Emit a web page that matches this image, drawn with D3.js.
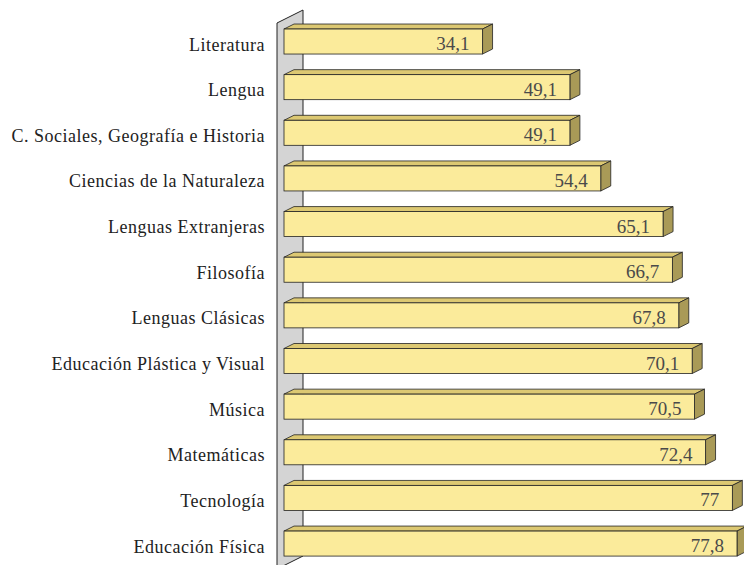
<!DOCTYPE html>
<html>
<head>
<meta charset="utf-8">
<script src="https://cdn.jsdelivr.net/npm/d3@7"></script>
<style>
  html, body { margin: 0; padding: 0; background: #fff; }
  svg { display: block; }
</style>
</head>
<body>
<svg id="chart" width="744" height="565"></svg>
<script>
// Subjects, top to bottom, and their scores
const subjects = [
  "Literatura",
  "Lengua",
  "C. Sociales, Geografía e Historia",
  "Ciencias de la Naturaleza",
  "Lenguas Extranjeras",
  "Filosofía",
  "Lenguas Clásicas",
  "Educación Plástica y Visual",
  "Música",
  "Matemáticas",
  "Tecnología",
  "Educación Física"
];
const scores = [34.1, 49.1, 49.1, 54.4, 65.1, 66.7, 67.8, 70.1, 70.5, 72.4, 77, 77.8];
const scoreLabels = ["34,1", "49,1", "49,1", "54,4", "65,1", "66,7", "67,8", "70,1", "70,5", "72,4", "77", "77,8"];

const svg = d3.select("#chart");
const fontFamily = "'Liberation Serif', 'DejaVu Serif', serif";

// Layout
const x0 = 284;                 // front plane of the bars
const depthX = 10, depthY = 5;  // 3D extrusion
const x = d3.scaleLinear().domain([0, 77.8]).range([x0, 737]);
const y = d3.scaleBand().domain(subjects)
  .range([6.2, 578.9]).paddingInner(0.452).paddingOuter(0.5);

// Back wall (side panel)
const wallFront = 277, wallBack = wallFront + 26;
const wallTop = 10, wallBottom = 556;
svg.append("path")
  .attr("d", `M${wallFront},${wallTop + 13} L${wallBack},${wallTop} L${wallBack},${wallBottom} L${wallFront},${wallBottom + 13} Z`)
  .attr("fill", "#d4d4d4")
  .attr("stroke", "#222")
  .attr("stroke-width", 1);

// Bars
const colFront = "#fbeb9b", colTop = "#dcc872", colSide = "#a99a57";
const bars = svg.append("g").selectAll("g")
  .data(subjects.map((s, i) => ({ s, v: scores[i], label: scoreLabels[i] })))
  .join("g");

bars.each(function (d) {
  const g = d3.select(this);
  const yt = y(d.s), h = y.bandwidth();
  const xr = x(d.v);
  // top face
  g.append("path")
    .attr("d", `M${x0},${yt} L${x0 + depthX},${yt - depthY} L${xr + depthX},${yt - depthY} L${xr},${yt} Z`)
    .attr("fill", colTop).attr("stroke", "#222").attr("stroke-width", 0.8);
  // side face
  g.append("path")
    .attr("d", `M${xr},${yt} L${xr + depthX},${yt - depthY} L${xr + depthX},${yt + h - depthY} L${xr},${yt + h} Z`)
    .attr("fill", colSide).attr("stroke", "#222").attr("stroke-width", 0.8);
  // front face
  g.append("rect")
    .attr("x", x0).attr("y", yt).attr("width", xr - x0).attr("height", h)
    .attr("fill", colFront).attr("stroke", "#222").attr("stroke-width", 0.8);
  // value label
  g.append("text")
    .attr("x", xr - 13).attr("y", yt + h / 2 + 8.5)
    .attr("text-anchor", "end")
    .attr("font-family", fontFamily).attr("font-size", 19)
    .attr("fill", "#4a4a4a")
    .text(d.label);
});

// Category labels
svg.append("g").selectAll("text")
  .data(subjects)
  .join("text")
  .attr("x", 265)
  .attr("y", d => y(d) + y.bandwidth() / 2 + 9)
  .attr("text-anchor", "end")
  .attr("font-family", fontFamily).attr("font-size", 18)
  .attr("letter-spacing", 0.5)
  .attr("fill", "#222")
  .text(d => d);
</script>
</body>
</html>
